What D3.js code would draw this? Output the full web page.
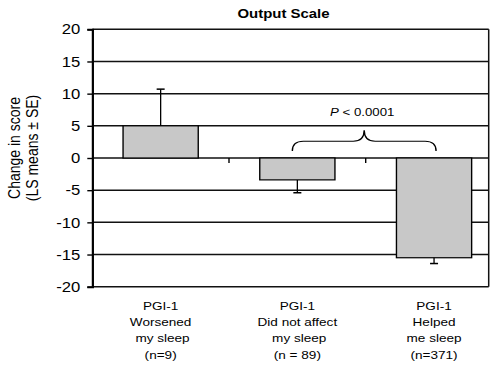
<!DOCTYPE html>
<html>
<head>
<meta charset="utf-8">
<script src="https://cdn.jsdelivr.net/npm/d3@7"></script>
<style>
  html, body { margin: 0; padding: 0; background: #fff; }
  svg { display: block; }
  text { font-family: "Liberation Sans", Arial, sans-serif; fill: #000; }
</style>
</head>
<body>
<svg id="chart"></svg>
<script>
// data
const categories = ["Worsened", "Did not affect", "Helped"];
const labelLines = [
  ["PGI-1", "Worsened", " my sleep", "(n=9)"],
  ["PGI-1", "Did not affect", " my sleep", "(n = 89)"],
  ["PGI-1", "Helped", "me sleep", "(n=371)"]
];
const lsMeans = [5.0, -3.4, -15.5];
const seValues = [5.7, 2.0, 0.9];
const yTicks = [-20, -15, -10, -5, 0, 5, 10, 15, 20];
const pText = "< 0.0001";

const W = 492, H = 366;
// the original picture is stretched a little horizontally, so draw in a narrower box
const sx = 1.15;
const X = px => px / sx;

const svg = d3.select("#chart")
  .attr("width", W)
  .attr("height", H)
  .attr("viewBox", `0 0 ${W / sx} ${H}`)
  .attr("preserveAspectRatio", "none");

const plotLeft = 92.3, plotRight = 488.7, plotTop = 29.3, plotBottom = 286.7;

const y = d3.scaleLinear().domain([-20, 20]).range([plotBottom, plotTop]);
const x = d3.scaleBand()
  .domain(categories)
  .range([X(plotLeft), X(plotLeft + 3 * 136.7)])
  .paddingInner(0.45)
  .paddingOuter(0.225);

// gridlines
svg.append("g").selectAll("line")
  .data(yTicks)
  .enter().append("line")
    .attr("x1", X(plotLeft))
    .attr("x2", X(plotRight))
    .attr("y1", d => y(d))
    .attr("y2", d => y(d))
    .attr("stroke", "#111")
    .attr("stroke-width", 1.5);

// right frame
svg.append("line")
  .attr("x1", X(plotRight)).attr("x2", X(plotRight))
  .attr("y1", y(20)).attr("y2", y(-20))
  .attr("stroke", "#111").attr("stroke-width", 1.5 / sx);

// y axis
const yAxis = d3.axisLeft(y)
  .tickValues(yTicks)
  .tickFormat(d => String(d))   // plain hyphen like the original
  .tickSize(X(5))
  .tickPadding(X(7));
const gy = svg.append("g")
  .attr("transform", `translate(${X(plotLeft)},0)`)
  .call(yAxis);
gy.select(".domain").attr("stroke", "#000").attr("stroke-width", 2.2 / sx);
gy.selectAll(".tick line").attr("stroke", "#000").attr("stroke-width", 1.4);
gy.selectAll(".tick text")
  .attr("font-size", 14.5)
  .attr("font-family", "Liberation Sans, Arial, sans-serif")
  .attr("fill", "#000");

// category ticks on the zero line
const bounds = categories.slice(1).map(c => x(c) - x.step() * x.paddingInner() / 2);
svg.append("g").selectAll("line")
  .data(bounds)
  .enter().append("line")
    .attr("x1", d => d).attr("x2", d => d)
    .attr("y1", y(0)).attr("y2", y(0) + 5)
    .attr("stroke", "#000")
    .attr("stroke-width", 1.4 / sx);

// bars
svg.append("g").selectAll("rect")
  .data(lsMeans)
  .enter().append("rect")
    .attr("x", (d, i) => x(categories[i]))
    .attr("width", x.bandwidth())
    .attr("y", d => y(Math.max(0, d)))
    .attr("height", d => Math.abs(y(d) - y(0)))
    .attr("fill", "#c8c8c8")
    .attr("stroke", "#000")
    .attr("stroke-width", 1.2);

// one-sided error bars
const capHalf = X(4);
const err = svg.append("g").selectAll("g")
  .data(lsMeans)
  .enter().append("g");
err.append("line")
  .attr("x1", (d, i) => x(categories[i]) + x.bandwidth() / 2)
  .attr("x2", (d, i) => x(categories[i]) + x.bandwidth() / 2)
  .attr("y1", d => y(d))
  .attr("y2", (d, i) => y(d + Math.sign(d) * seValues[i]))
  .attr("stroke", "#000").attr("stroke-width", 1.3 / sx);
err.append("line")
  .attr("x1", (d, i) => x(categories[i]) + x.bandwidth() / 2 - capHalf)
  .attr("x2", (d, i) => x(categories[i]) + x.bandwidth() / 2 + capHalf)
  .attr("y1", (d, i) => y(d + Math.sign(d) * seValues[i]))
  .attr("y2", (d, i) => y(d + Math.sign(d) * seValues[i]))
  .attr("stroke", "#000").attr("stroke-width", 1.5);

// brace between "did not affect" and "helped"
const bx1 = x(categories[1]) + x.bandwidth() / 2 - X(5);
const bx2 = x(categories[2]) + x.bandwidth() / 2 + X(2);
const bc = (bx1 + bx2) / 2;
const yEnd = y(1.1), yMid = y(2.6), yPeak = y(4.3);
const r = X(11);
const brace = d3.path();
brace.moveTo(bx1, yEnd);
brace.quadraticCurveTo(bx1, yMid, bx1 + r, yMid);
brace.lineTo(bc - r, yMid);
brace.quadraticCurveTo(bc, yMid, bc, yPeak);
brace.quadraticCurveTo(bc, yMid, bc + r, yMid);
brace.lineTo(bx2 - r, yMid);
brace.quadraticCurveTo(bx2, yMid, bx2, yEnd);
svg.append("path")
  .attr("d", brace.toString())
  .attr("fill", "none")
  .attr("stroke", "#000")
  .attr("stroke-width", 1.2);

const pt = svg.append("text")
  .attr("x", bc - X(2))
  .attr("y", y(6.6))
  .attr("text-anchor", "middle")
  .attr("font-size", 11.5);
pt.append("tspan").attr("font-style", "italic").text("P");
pt.append("tspan").text(" " + pText);

// category labels
const lab = svg.append("g").selectAll("text")
  .data(labelLines)
  .enter().append("text")
    .attr("text-anchor", "middle")
    .attr("font-size", 11.8)
    .attr("x", (d, i) => x(categories[i]) + x.bandwidth() / 2)
    .attr("y", 310);
lab.selectAll("tspan")
  .data(d => d)
  .enter().append("tspan")
    .attr("x", function() { return d3.select(this.parentNode).attr("x"); })
    .attr("dy", (d, i) => i === 0 ? 0 : 16.2)
    .attr("xml:space", "preserve")
    .text(d => d);

// title
svg.append("text")
  .attr("x", X(283.5))
  .attr("y", 18.5)
  .attr("text-anchor", "middle")
  .attr("font-size", 13)
  .attr("font-weight", "bold")
  .text("Output Scale");

// y axis title
const yl = svg.append("text")
  .attr("transform", `translate(${X(20)},148) rotate(-90)`)
  .attr("text-anchor", "middle")
  .attr("font-size", 14);
yl.append("tspan").attr("x", 0).attr("dy", 0).text("Change in score");
yl.append("tspan").attr("x", 0).attr("dy", 15.5).text("(LS means \u00b1 SE)");
</script>
</body>
</html>
